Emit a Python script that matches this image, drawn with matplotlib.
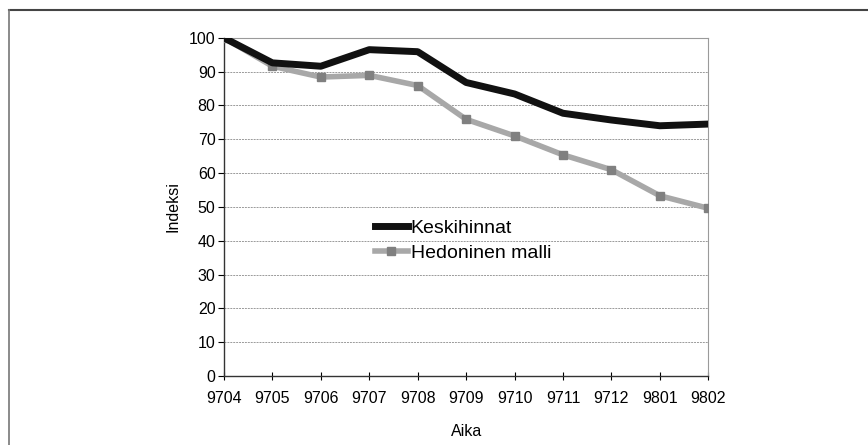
import numpy as np
import matplotlib

matplotlib.use("agg")
import matplotlib.pyplot as plt
from matplotlib.lines import Line2D

plt.rcParams["font.family"] = ["Liberation Sans Narrow", "Liberation Sans", "DejaVu Sans"]

periods = ["9704", "9705", "9706", "9707", "9708", "9709",
           "9710", "9711", "9712", "9801", "9802"]
keskihinnat = [100, 92.6, 91.6, 96.5, 95.9, 86.8, 83.4, 77.7, 75.7, 74.0, 74.5]
hedoninen = [100, 91.6, 88.4, 88.9, 85.9, 75.9, 71.0, 65.4, 61.0, 53.3, 49.6]
yticks = np.arange(0, 101, 10)

fig = plt.figure(figsize=(8.68, 4.45), dpi=100)
ax = fig.add_axes([0.258, 0.155, 0.558, 0.760])

x = np.arange(len(periods))
ax.plot(x, keskihinnat, color="#111111", lw=5, solid_capstyle="butt",
        solid_joinstyle="round", zorder=4)
ax.plot(x, hedoninen, color="#a8a8a8", lw=4, marker="s", ms=6,
        mfc="#808080", mec="#808080", solid_joinstyle="round", zorder=3)

ax.set_xlim(0, len(periods) - 1)
ax.set_ylim(0, 100)
ax.set_xticks(x)
ax.set_xticklabels(periods, fontsize=11.5)
ax.set_yticks(yticks)
ax.set_yticklabels([str(v) for v in yticks], fontsize=11.5)
ax.tick_params(axis="x", direction="inout", length=6, width=0.8, pad=8)
ax.tick_params(axis="y", direction="out", length=4, width=0.8, pad=2)
ax.yaxis.grid(True, color="#9a9a9a", lw=0.7, ls=(0, (2, 1)))
ax.set_axisbelow(True)
for side in ("top", "right"):
    ax.spines[side].set_color("#9a9a9a")
    ax.spines[side].set_linestyle((0, (2, 1)))
    ax.spines[side].set_linewidth(0.8)
for side in ("left", "bottom"):
    ax.spines[side].set_color("#333333")
    ax.spines[side].set_linewidth(1.0)

ax.set_ylabel("Indeksi", fontsize=11.5, labelpad=6)
ax.set_xlabel("Aika", fontsize=11.5, labelpad=13)

handles = [
    Line2D([], [], color="#111111", lw=5),
    Line2D([], [], color="#a8a8a8", lw=4, marker="s", ms=6,
           mfc="#808080", mec="#808080"),
]
leg = ax.legend(handles, ["Keskihinnat", "Hedoninen malli"],
                loc="upper left", bbox_to_anchor=(0.295, 0.487),
                frameon=False, fontsize=14, handlelength=1.7,
                handletextpad=0.15, labelspacing=0.4, borderaxespad=0)

# scanned page frame
fig.add_artist(Line2D([9 / 868, 1], [1 - 10 / 445, 1 - 10 / 445],
                      color="#444444", lw=1.5, transform=fig.transFigure))
fig.add_artist(Line2D([9 / 868, 9 / 868], [0, 1 - 10 / 445],
                      color="#777777", lw=1.2, transform=fig.transFigure))

fig.savefig("out.png", dpi=100)
